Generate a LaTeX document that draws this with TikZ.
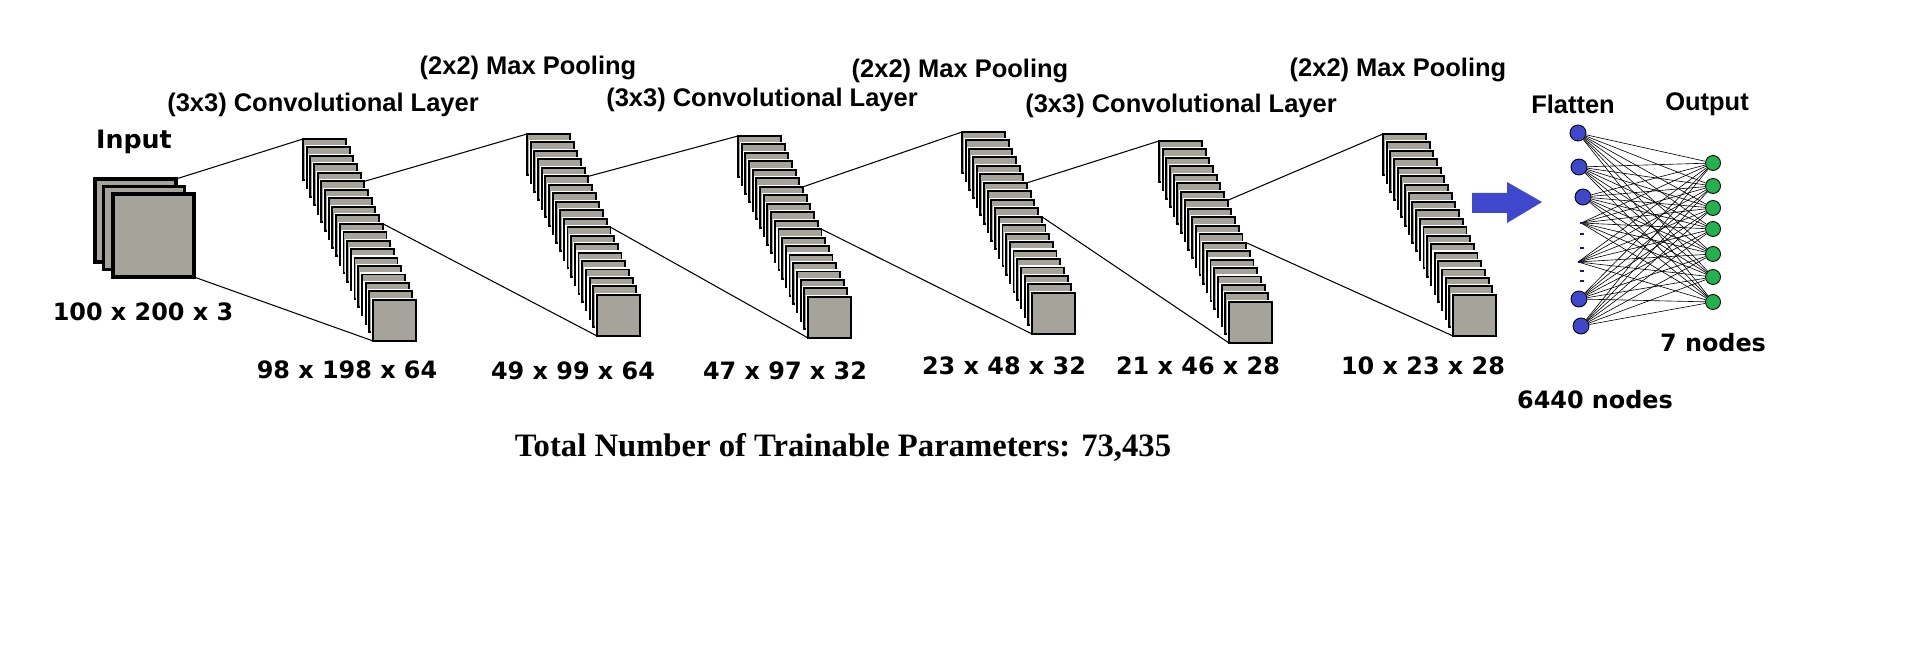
\documentclass[tikz,border=0pt]{standalone}
\usepackage{fontspec}
\setmainfont{Liberation Sans}
\newfontfamily\heavyfont{DejaVu Sans}
\newfontfamily\timesfont{Liberation Serif}

\definecolor{mapgray}{RGB}{166,163,155}
\definecolor{paintblue}{RGB}{63,72,204}
\definecolor{paintgreen}{RGB}{34,177,76}
\definecolor{dotblue}{RGB}{25,30,110}

% one stack of 20 feature maps, first top-left corner at (#2,#3)
\newcommand{\mapstack}[3]{%
  \foreach \j in {1,...,20}{\node[fmap] (#1-\j) at ({#2+3.68*(\j-1)},{#3+8.47*(\j-1)}) {};}}

\begin{document}
\begin{tikzpicture}[x=0.02cm,y=-0.02cm,
  fmap/.style={draw=black,fill=mapgray,line width=1.1pt,anchor=north west,inner sep=0pt,outer sep=0pt,
    minimum width=0.86cm,minimum height=0.82cm,preaction={draw=white,line width=2.4pt}},
  inmap/.style={draw=black,fill=mapgray,line width=1.8pt,inner sep=0pt,outer sep=0pt,minimum width=1.62cm,minimum height=1.66cm},
  link/.style={draw=black,line width=0.6pt},
  flat/.style={circle,draw=black,fill=paintblue,line width=0.5pt,minimum size=0.32cm,inner sep=0pt},
  outn/.style={circle,draw=black,fill=paintgreen,line width=0.5pt,minimum size=0.30cm,inner sep=0pt},
  edge/.style={draw=black,line width=0.35pt},
  toplbl/.style={font=\bfseries\fontsize{14.5}{17}\selectfont},
  dimlbl/.style={font=\heavyfont\bfseries\fontsize{13.6}{16}\selectfont}]
\fill[white] (0,0) rectangle (1914,648);
\useasboundingbox (0,0) rectangle (1914,648);

% input
\node[inmap] (in0) at (135.5,220.5) {};
\node[inmap] (in1) at (144,228) {};
\node[inmap] (in2) at (153.5,235.5) {};
\node[dimlbl,font=\heavyfont\bfseries\fontsize{14.4}{17}\selectfont] (inlbl) at (134,142) {Input};
\node[dimlbl] (indim) at (143,312) {100 x 200 x 3};

% feature map stacks
\mapstack{s1}{303}{139}
\mapstack{s2}{527}{134}
\mapstack{s3}{738}{136}
\mapstack{s4}{962}{132}
\mapstack{s5}{1159}{141}
\mapstack{s6}{1383}{134}

% projection lines
\draw[link] (in0.north east) -- (s1-1.north west); \draw[link] (in2.south east) -- (s1-20.south west);
\draw[link] (s1-6.north east) -- (s2-1.north west); \draw[link] (s1-11.north east) -- (s2-20.south west);
\draw[link] (s2-6.north east) -- (s3-1.north west); \draw[link] (s2-12.north east) -- (s3-20.south west);
\draw[link] (s3-7.north east) -- (s4-1.north west); \draw[link] (s3-12.north east) -- (s4-20.south west);
\draw[link] (s4-7.north east) -- (s5-1.north west); \draw[link] (s4-11.north east) -- (s5-20.south west);
\draw[link] (s5-8.north east) -- (s6-1.north west); \draw[link] (s5-13.north east) -- (s6-20.south west);

% layer labels
\node[toplbl] (conv1) at (323,105) {(3x3) Convolutional Layer};
\node[toplbl] (pool1) at (528,68) {(2x2) Max Pooling};
\node[toplbl] (conv2) at (762,100) {(3x3) Convolutional Layer};
\node[toplbl] (pool2) at (960,71) {(2x2) Max Pooling};
\node[toplbl] (conv3) at (1181,106) {(3x3) Convolutional Layer};
\node[toplbl] (pool3) at (1398,70) {(2x2) Max Pooling};

% sizes
\node[dimlbl] (d1) at (347,370) {98 x 198 x 64};
\node[dimlbl] (d2) at (573,371) {49 x 99 x 64};
\node[dimlbl] (d3) at (785,371) {47 x 97 x 32};
\node[dimlbl] (d4) at (1004,366) {23 x 48 x 32};
\node[dimlbl] (d5) at (1198,366) {21 x 46 x 28};
\node[dimlbl] (d6) at (1423,366) {10 x 23 x 28};

% flatten arrow
\fill[paintblue] (1472,193) -- (1507,193) -- (1507,182) -- (1542,202) -- (1507,223) -- (1507,213) -- (1472,213) -- cycle;

% dense layer
\foreach \i/\x/\y in {1/1578/133,2/1579/167,3/1583/197,6/1579/299,7/1581/326}
  \node[flat] (f\i) at (\x,\y) {};
\coordinate (f4) at (1581,223);
\coordinate (f5) at (1578,262);
\foreach \k/\y in {1/163,2/186,3/208,4/229,5/254,6/277,7/302}
  \node[outn] (o\k) at (1713,\y) {};
\foreach \i in {1,...,7}
  \foreach \k in {1,...,7}
    \draw[edge] (f\i) -- (o\k);
\foreach \y in {222,233,247,261,270,280}
  \fill[dotblue] (1580,\y) rectangle +(4,2);

\node[toplbl] (flatlbl) at (1573,104) {Flatten};
\node[toplbl] (outlbl) at (1707,104) {Output};
\node[dimlbl] (outcnt) at (1713,343) {7 nodes};
\node[dimlbl] (flatcnt) at (1595,400) {6440 nodes};

\node[font=\timesfont\bfseries\fontsize{18.6}{22}\selectfont] (total) at (843,448) {Total Number of Trainable Parameters: 73,435};
\end{tikzpicture}
\end{document}
